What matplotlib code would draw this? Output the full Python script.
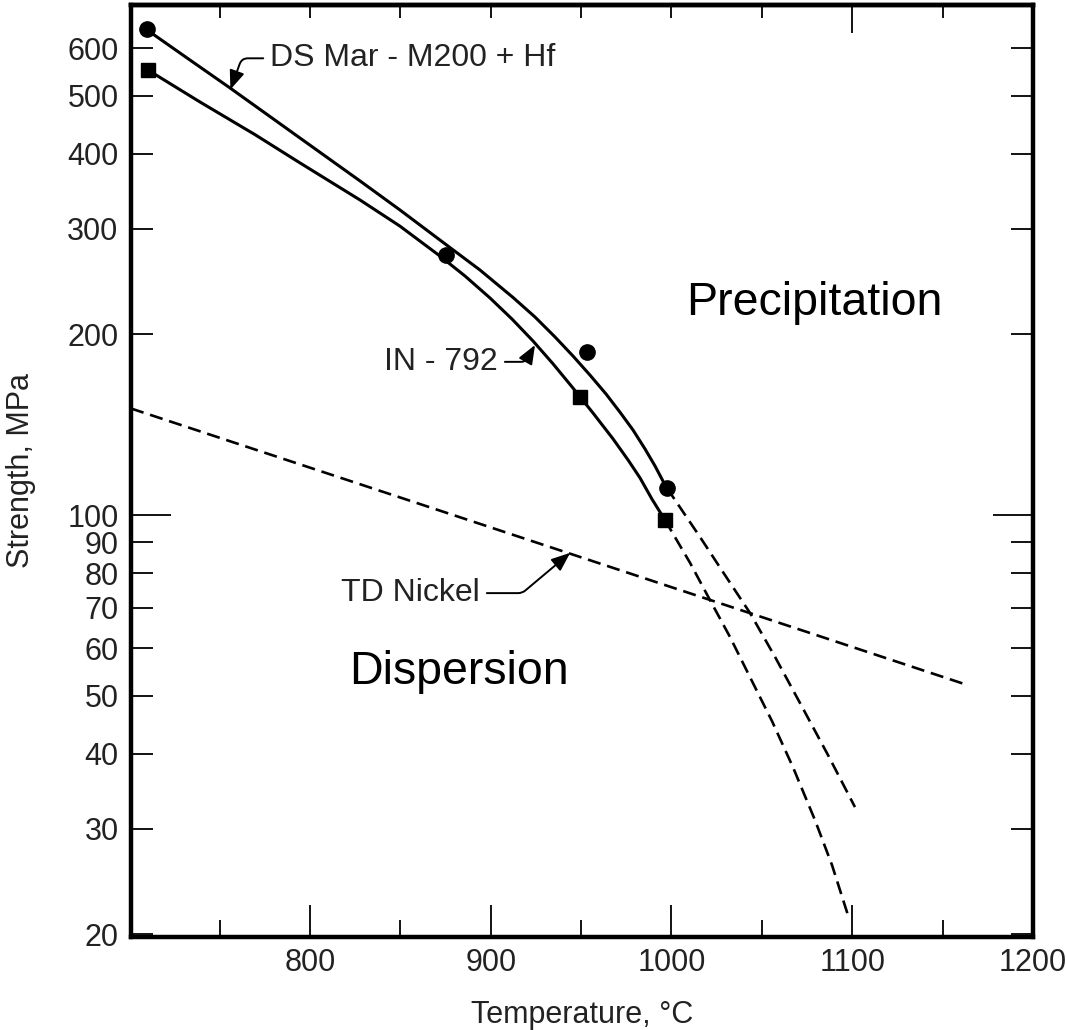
import matplotlib
matplotlib.use("Agg")
import matplotlib.pyplot as plt

plt.rcParams['font.family'] = ['Liberation Sans', 'DejaVu Sans']

# ---- data ----
ds_curve_T = [709.9, 733.6, 755.8, 794.5, 827.7, 849.8, 871.9, 894.1, 912.3, 924.5,
              935.6, 945.5, 954.9, 963.8, 971.5, 978.7, 985.4, 990.9, 995.3, 997.5]
ds_curve_S = [643.3, 573.3, 514.9, 424.9, 360.4, 322.4, 287.3, 256.0, 230.5, 213.8,
              198.0, 184.1, 171.1, 159.1, 148.4, 138.6, 128.8, 120.7, 113.9, 110.9]
ds_ext_T = [997.5, 1015.8, 1029.6, 1043.4, 1057.3, 1071.1, 1086.6, 1101.5]
ds_ext_S = [110.9, 91.9, 79.4, 68.7, 58.0, 48.6, 39.8, 32.6]
ds_pts_T = [709.9, 875, 953, 997.5]
ds_pts_S = [645, 271, 187, 110.9]

in_curve_T = [710.4, 739.2, 769.6, 794.5, 827.7, 849.8, 871.9, 885.8, 899.6, 911.8,
              923.4, 934.5, 945.5, 956.6, 967.7, 976.0, 982.6, 989.2, 996.4]
in_curve_S = [551.6, 487.9, 430.5, 386.2, 335.0, 303.0, 270.2, 250.2, 230.0, 212.1,
              195.0, 178.6, 162.8, 147.9, 133.9, 123.5, 115.3, 106.3, 98.1]
in_ext_T = [996.4, 1010.3, 1021.3, 1032.4, 1043.4, 1055.6, 1067.2, 1079.4, 1088.8, 1097.7]
in_ext_S = [98.1, 83.2, 72.15, 62.6, 53.7, 45.35, 38.0, 31.0, 26.1, 21.5]
in_pts_T = [710.4, 949.5, 996.4]
in_pts_S = [551.6, 157, 98.1]

td_T = [701, 1163.5]
td_S = [150.5, 52.1]

x_major = [800, 900, 1000, 1100, 1200]
x_minor = [750, 850, 950, 1050, 1150]
y_major = [100]
y_minor = [20, 30, 40, 50, 60, 70, 80, 90, 200, 300, 400, 500, 600]

TXT = '#222222'

fig = plt.figure(figsize=(10.66, 10.30), dpi=100)
ax = fig.add_axes([131/1066, 93/1030, (1033-131)/1066, (937-5)/1030])
ax.set_yscale('log')
ax.set_xlim(701, 1200)
ax.set_ylim(19.8, 708)

lw = 2.2
ax.plot(ds_curve_T, ds_curve_S, color='black', lw=lw, solid_capstyle='round',
        solid_joinstyle='round')
ax.plot(in_curve_T, in_curve_S, color='black', lw=lw, solid_capstyle='round',
        solid_joinstyle='round')
dash = (0, (5, 2.6))
ax.plot(ds_ext_T, ds_ext_S, color='black', lw=1.9, linestyle=dash)
ax.plot(in_ext_T, in_ext_S, color='black', lw=1.9, linestyle=dash)
ax.plot(td_T, td_S, color='black', lw=1.9, linestyle=dash)
ax.plot(ds_pts_T, ds_pts_S, linestyle='none', marker='o', ms=11, color='black')
ax.plot(in_pts_T, in_pts_S, linestyle='none', marker='s', ms=10.5, color='black')

# annotations
arrow = dict(arrowstyle='-|>,head_length=0.5,head_width=0.2', color='black', lw=1.4,
             shrinkA=3, shrinkB=0)
ax.annotate('DS Mar - M200 + Hf', xy=(756, 512), xytext=(778, 577),
            ha='left', va='center', fontsize=23, color=TXT,
            arrowprops=dict(arrow, connectionstyle='angle,angleA=180,angleB=70,rad=6',
                            relpos=(0, 0.5)))
ax.annotate('IN - 792', xy=(924.5, 192), xytext=(904, 180),
            ha='right', va='center', fontsize=23, color=TXT,
            arrowprops=dict(arrow, connectionstyle='angle,angleA=0,angleB=60,rad=4',
                            relpos=(1, 0.5)))
ax.annotate('TD Nickel', xy=(944, 86.5), xytext=(894, 74.1),
            ha='right', va='center', fontsize=23, color=TXT,
            arrowprops=dict(arrow, connectionstyle='angle,angleA=0,angleB=40,rad=4',
                            relpos=(1, 0.5)))

ax.text(1008, 225.7, 'Precipitation', fontsize=33.5, color='black', ha='left', va='center')
ax.text(821.6, 54.8, 'Dispersion', fontsize=33.5, color='black', ha='left', va='center')

# ticks
ax.set_xticks(x_major)
ax.set_xticklabels([str(v) for v in x_major])
ax.set_xticks(x_minor, minor=True)
ax.set_yticks(y_major)
ax.set_yticklabels([str(v) for v in y_major])
ax.set_yticks(y_minor, minor=True)
ax.set_yticklabels([str(v) for v in y_minor], minor=True)

ax.tick_params(axis='x', which='major', direction='in', length=23, width=1.3,
               labelsize=22, labelcolor=TXT, pad=8, top=False)
ax.tick_params(axis='x', which='minor', direction='in', length=12, width=1.3, top=False)
ax.tick_params(axis='y', which='major', direction='in', length=29, width=1.3,
               labelsize=22, labelcolor=TXT, pad=9, right=True)
ax.tick_params(axis='y', which='minor', direction='in', length=16, width=1.3,
               labelsize=22, labelcolor=TXT, pad=9, right=True)

sec = ax.secondary_xaxis('top')
sec.set_xticks(x_minor + [800, 900, 1000], minor=False)
sec.set_xticks([1100], minor=True)
sec.tick_params(axis='x', which='major', direction='in', length=9, width=1.3, labeltop=False)
sec.tick_params(axis='x', which='minor', direction='in', length=20, width=1.3, labeltop=False)
sec.spines['top'].set_linewidth(3.2)

for s in ax.spines.values():
    s.set_linewidth(3.2)

ax.set_xlabel('Temperature, \u00b0C', fontsize=22, color=TXT, labelpad=16)
ax.set_ylabel('Strength, MPa', fontsize=22, color=TXT)
ax.yaxis.set_label_coords(-0.105, 0.5)

fig.savefig('out.png', dpi=100, facecolor='white')
